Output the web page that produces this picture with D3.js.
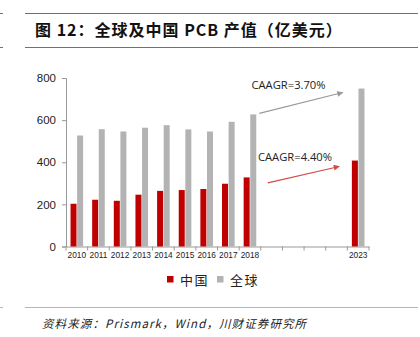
<!DOCTYPE html>
<html><head><meta charset="utf-8">
<script src="https://cdn.jsdelivr.net/npm/d3@7"></script>
<style>body{margin:0;background:#fff;} svg{display:block;}</style>
</head><body>
<svg id="c" width="420" height="337"></svg>
<script>
const years = ["2010","2011","2012","2013","2014","2015","2016","2017","2018","2019","2020","2021","2022","2023"];
const shownYears = ["2010","2011","2012","2013","2014","2015","2016","2017","2018","2023"];
const chinaVals = [203, 222, 217, 246, 264, 268, 273, 298, 328, null, null, null, null, 408];
const globalVals = [527, 557, 546, 564, 576, 556, 546, 592, 627, null, null, null, null, 750];
const yTicks = [0, 200, 400, 600, 800];
const seriesNames = ["中国", "全球"];
const colors = ["#c00000", "#b3b3b3"];
const annoGlobal = {text: "CAAGR=3.70%", from: ["2018", 632], to: ["2022", 731]};
const annoChina = {text: "CAAGR=4.40%", from: ["2019", 302], to: ["2022", 380]};

const svg = d3.select("#c");
// header rules
[13.5, 47.5].forEach(yy => {
  svg.append("line").attr("x1",0).attr("x2",3).attr("y1",yy).attr("y2",yy).attr("stroke","#c0504d").attr("stroke-width",1);
  svg.append("line").attr("x1",25).attr("x2",418).attr("y1",yy).attr("y2",yy).attr("stroke","#c0504d").attr("stroke-width",1);
});
svg.append("text").attr("x",35).attr("y",36).attr("font-family","'Noto Sans CJK SC', sans-serif")
  .attr("font-weight","bold").attr("font-size",16).attr("letter-spacing",1).attr("fill","#111")
  .text("图 12：全球及中国 PCB 产值（亿美元）");

const x = d3.scaleBand().domain(years).range([66, 369]).paddingInner(0).paddingOuter(0);
const y = d3.scaleLinear().domain([0, 800]).range([246.5, 78]);
const bw = 6;

// y axis
const ya = svg.append("g").attr("transform","translate(66,0)")
  .call(d3.axisLeft(y).tickValues(yTicks).tickSize(4).tickPadding(6));
ya.select(".domain").attr("stroke","#999");
ya.selectAll(".tick line").attr("stroke","#999");
ya.selectAll(".tick text").attr("font-family","'Liberation Sans', Arial, sans-serif").attr("font-size",11.5).attr("fill","#222");

// x axis
const xa = svg.append("g").attr("transform","translate(0,246.5)")
  .call(d3.axisBottom(x).tickValues(shownYears).tickSize(0).tickPadding(6));
xa.select(".domain").attr("stroke","#999");
xa.selectAll(".tick text").attr("font-family","'Liberation Sans', Arial, sans-serif").attr("font-size",8.3).attr("fill","#222");
// band boundary ticks
svg.append("g").selectAll("line").data(years.concat(["end"])).join("line")
  .attr("x1", d => d==="end" ? x.range()[1] : x(d)).attr("x2", d => d==="end" ? x.range()[1] : x(d))
  .attr("y1",246.5).attr("y2",250.5).attr("stroke","#999");

// bars
const data = years.map((yr,i)=>({yr, c: chinaVals[i], g: globalVals[i]}));
const cx = d => x(d.yr) + x.bandwidth()/2;
svg.append("g").selectAll("rect").data(data.filter(d=>d.c!=null)).join("rect")
  .attr("x", d=>cx(d)-bw-0.3).attr("width", bw).attr("y", d=>y(d.c)).attr("height", d=>y(0)-y(d.c)).attr("fill",colors[0]);
svg.append("g").selectAll("rect").data(data.filter(d=>d.g!=null)).join("rect")
  .attr("x", d=>cx(d)+0.3).attr("width", bw).attr("y", d=>y(d.g)).attr("height", d=>y(0)-y(d.g)).attr("fill",colors[1]);

// annotations
const defs = svg.append("defs");
function marker(id, col){
  defs.append("marker").attr("id",id).attr("viewBox","0 0 10 10").attr("refX",9).attr("refY",5)
    .attr("markerWidth",7).attr("markerHeight",6).attr("markerUnits","userSpaceOnUse").attr("orient","auto")
    .append("path").attr("d","M0,0L10,5L0,10z").attr("fill",col);
}
marker("ag","#999");
marker("ar","#d24b45");
function arrow(a, col, mid, dxFrom, dxTo){
  svg.append("line").attr("x1", x(a.from[0]) + dxFrom).attr("y1", y(a.from[1]))
    .attr("x2", x(a.to[0]) + dxTo).attr("y2", y(a.to[1]))
    .attr("stroke", col).attr("stroke-width",1.2).attr("marker-end","url(#"+mid+")");
}
arrow(annoGlobal, "#999", "ag", x.bandwidth()-1.5, 17);
arrow(annoChina, "#d24b45", "ar", 7, 13.5);
svg.append("text").attr("x",251.5).attr("y",89).attr("font-family","'Open Sans', sans-serif").attr("font-size",11.2).attr("fill","#222").text(annoGlobal.text);
svg.append("text").attr("x",258).attr("y",160.5).attr("font-family","'Open Sans', sans-serif").attr("font-size",11.2).attr("fill","#222").text(annoChina.text);

// legend
const lg = svg.append("g");
const lx = [167, 217];
seriesNames.forEach((n,i)=>{
  lg.append("rect").attr("x",lx[i]).attr("y",276).attr("width",6.5).attr("height",6.5).attr("fill",colors[i]);
  lg.append("text").attr("x",lx[i]+13).attr("y",284.5).attr("font-family","'Noto Sans CJK SC', sans-serif")
    .attr("font-size",13).attr("letter-spacing",1.5).attr("fill","#222").text(n);
});

// footer
svg.append("line").attr("x1",0).attr("x2",3).attr("y1",307.5).attr("y2",307.5).attr("stroke","#e8a0a0");
svg.append("line").attr("x1",25).attr("x2",418).attr("y1",307.5).attr("y2",307.5).attr("stroke","#e8a0a0");
svg.append("text").attr("x",42).attr("y",328).attr("font-family","'Noto Sans CJK SC', sans-serif")
  .attr("font-size",11.5).attr("font-style","italic").attr("letter-spacing",1.1).attr("fill","#222")
  .text("资料来源：Prismark，Wind，川财证券研究所");
</script>
</body></html>
